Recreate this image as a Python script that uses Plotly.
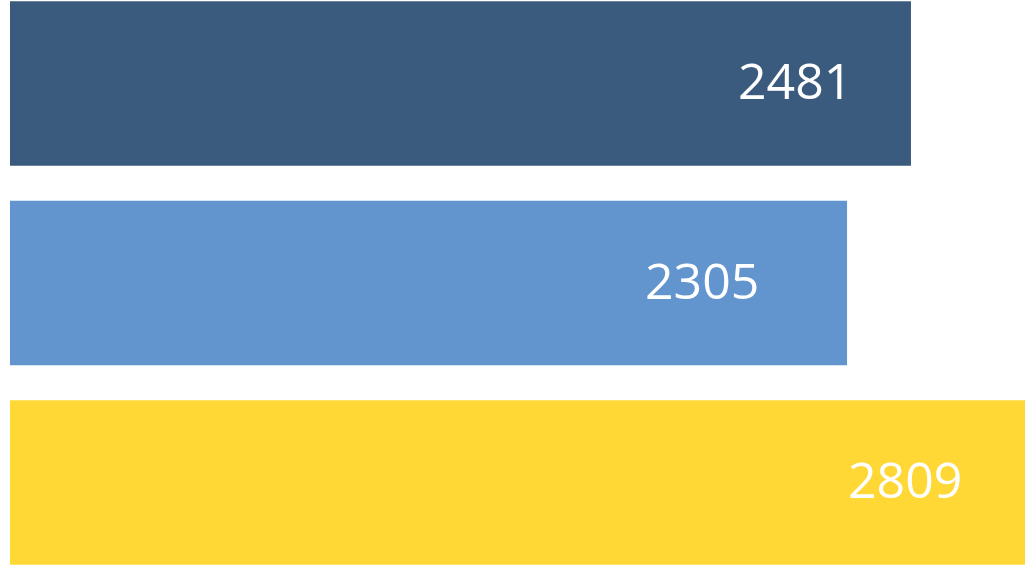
import plotly.graph_objects as go

categories = ["A", "B", "C"]
values = [2481, 2305, 2809]
labels = ["2481", "2305", "2809"]
colors = ["#3B5B7E", "#6294CD", "#FFD836"]
label_gap = [57, 86, 66]  # px gap between label right edge and bar end

X_MAX = 2795
PLOT_W = 1025 - 10
px_per_unit = PLOT_W / X_MAX

fig = go.Figure()
fig.add_trace(go.Bar(
    x=values, y=categories, orientation="h",
    marker=dict(color=colors, line=dict(width=0)),
    width=0.825, hoverinfo="skip",
))

for c, v, t, g in zip(categories, values, labels, label_gap):
    fig.add_annotation(x=v - g / px_per_unit, y=c, text=t, xanchor="right", yanchor="middle",
                       yshift=3, showarrow=False,
                       font=dict(family="Open Sans", size=50, color="white"))

fig.update_layout(
    width=1025, height=567,
    margin=dict(l=10, r=0, t=0, b=0),
    paper_bgcolor="white", plot_bgcolor="white",
    showlegend=False,
    xaxis=dict(range=[0, X_MAX], visible=False, showgrid=False, zeroline=False),
    yaxis=dict(range=[2.424, -0.4185], visible=False, showgrid=False,
               categoryorder="array", categoryarray=categories),
)

fig.write_html("out.html", config={"displayModeBar": False},
               post_script="document.body.style.margin='0px';document.body.style.overflow='hidden';")
